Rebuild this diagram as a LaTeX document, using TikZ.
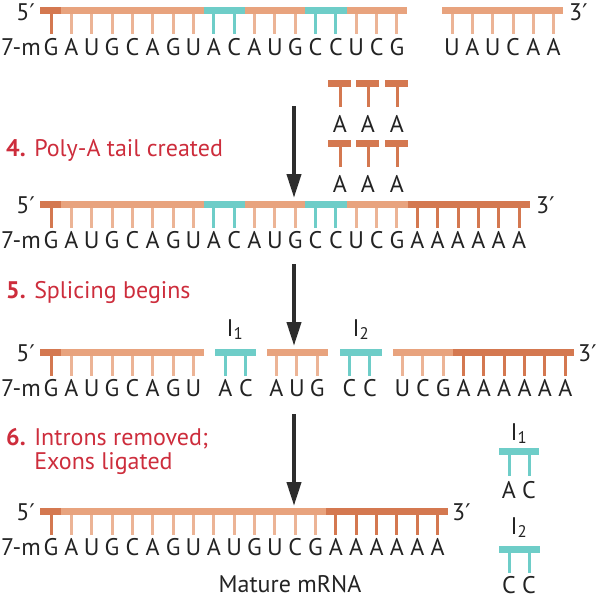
\documentclass[tikz,border=0pt]{standalone}
\usepackage{fontspec}
\setmainfont{PT Sans}
\newfontfamily\primefont{DejaVu Sans}
\usetikzlibrary{arrows.meta}
\definecolor{orl}{RGB}{232,163,126}
\definecolor{orlt}{RGB}{236,180,150}
\definecolor{ord}{RGB}{212,120,80}
\definecolor{cyn}{RGB}{110,205,200}
\definecolor{stagec}{RGB}{205,45,60}
\definecolor{arrowc}{RGB}{45,45,45}
\definecolor{basec}{RGB}{35,35,35}
\newcommand{\pr}{{\primefont\fontsize{23}{24}\selectfont ′}}

\begin{document}
\begin{tikzpicture}[x=1pt, y=-1pt,
  every node/.style={inner sep=0pt, font=\fontsize{24}{24}\selectfont, text=basec},
  base/.style={anchor=base},
  stem/.style={line width=3pt},
  stage/.style={anchor=base west, text=stagec, align=left, font=\fontsize{24}{24}\selectfont},
  down/.style={draw=arrowc, line width=4pt, -{Triangle[width=14pt,length=24pt]}}]
\useasboundingbox (0,0) rectangle (598,600);

% strand 1
\foreach \xa/\xb/\c in {40/61/ord, 61/204/orl, 204/245/cyn, 245/305/orl, 305/347/cyn, 347/407/orl, 442/563/orl}
  \fill[\c] (\xa,7) rectangle (\xb,14);
\foreach \b/\c [count=\i from 0] in {G/ord, A/orlt, U/orlt, G/orlt, C/orlt, A/orlt, G/orlt, U/orlt, A/cyn, C/cyn, A/orlt, U/orlt, G/orlt, C/cyn, C/cyn, U/orlt, C/orlt, G/orlt} {
  \draw[stem, \c] (51+20.35*\i,14) -- (51+20.35*\i,34);
  \node[base] (sa\i) at (51+20.35*\i,55) {\b};
}
\foreach \b [count=\i from 0] in {U,A,U,C,A,A} {
  \draw[stem, orlt] (452+20.35*\i,14) -- (452+20.35*\i,34);
  \node[base] (sb\i) at (452+20.35*\i,55) {\b};
}
\node[anchor=base east] (capa) at (41,55) {7-m};
\node[anchor=east] (fivea) at (35,12) {5\pr};
\node[anchor=west] (threea) at (569,12) {3\pr};

% free A's
\foreach \x [count=\i] in {340,368,397} {
  \fill[ord] (\x-12,79.5) rectangle (\x+11,86.5);
  \draw[stem, ord] (\x,86.5) -- (\x,107);
  \node[base] (pa\i) at (\x,132) {A};
  \fill[ord] (\x-12,139.5) rectangle (\x+11,146.5);
  \draw[stem, ord] (\x,146.5) -- (\x,167);
  \node[base] (pb\i) at (\x,192) {A};
}

\node[stage] (stage4) at (6,156) {\textbf{4.} Poly-A tail created};
\coordinate (a1top) at (294,106);
\coordinate (a1tip) at (294,198);
\draw[down] (a1top) -- (a1tip);

% strand 2
\foreach \xa/\xb/\c in {40/61/ord, 61/204/orl, 204/245/cyn, 245/305/orl, 305/347/cyn, 347/408/orl, 408/530/ord}
  \fill[\c] (\xa,201) rectangle (\xb,208);
\foreach \b/\c [count=\i from 0] in {G/ord, A/orlt, U/orlt, G/orlt, C/orlt, A/orlt, G/orlt, U/orlt, A/cyn, C/cyn, A/orlt, U/orlt, G/orlt, C/cyn, C/cyn, U/orlt, C/orlt, G/orlt, A/ord, A/ord, A/ord, A/ord, A/ord, A/ord} {
  \draw[stem, \c] (51+20.35*\i,208) -- (51+20.35*\i,228);
  \node[base] (sc\i) at (51+20.35*\i,248) {\b};
}
\node[anchor=base east] (capb) at (41,248) {7-m};
\node[anchor=east] (fiveb) at (35,205) {5\pr};
\node[anchor=west] (threeb) at (536,205) {3\pr};

\node[stage] (stage5) at (6,298) {\textbf{5.} Splicing begins};
\coordinate (a2top) at (294,264);
\coordinate (a2tip) at (294,346);
\draw[down] (a2top) -- (a2tip);

% strand 3
\foreach \xa/\xb/\c in {40/61/ord, 61/204/orl, 215/256/cyn, 267/328/orl, 340/382/cyn, 393/453/orl, 453/574/ord}
  \fill[\c] (\xa,348.5) rectangle (\xb,355.5);
\foreach \x/\b/\c [count=\i] in {51/G/ord, 71.35/A/orlt, 91.7/U/orlt, 112.05/G/orlt, 132.4/C/orlt, 152.75/A/orlt, 173.1/G/orlt, 193.45/U/orlt, 225.5/A/cyn, 245.85/C/cyn, 276.5/A/orlt, 296.85/U/orlt, 317.2/G/orlt, 349.5/C/cyn, 369.85/C/cyn, 402.5/U/orlt, 422.85/C/orlt, 443.2/G/orlt, 463.55/A/ord, 483.9/A/ord, 504.25/A/ord, 524.6/A/ord, 544.95/A/ord, 565.3/A/ord} {
  \draw[stem, \c] (\x,355.5) -- (\x,375.5);
  \node[base] (sd\i) at (\x,396) {\b};
}
\node[anchor=base east] (capc) at (41,396) {7-m};
\node[anchor=east] (fivec) at (35,353) {5\pr};
\node[anchor=west] (threec) at (578,353) {3\pr};
\node[base] (intra) at (235,336) {I\textsubscript{1}};
\node[base] (intrb) at (361,336) {I\textsubscript{2}};

\node[stage] (stage6) at (6,469) {\textbf{6.} Introns removed;\\\hphantom{\textbf{6.} }Exons ligated};
\coordinate (a3top) at (294,414);
\coordinate (a3tip) at (294,506);
\draw[down] (a3top) -- (a3tip);

% strand 4
\foreach \xa/\xb/\c in {40/61/ord, 61/326/orl, 326/448/ord}
  \fill[\c] (\xa,508) rectangle (\xb,515);
\foreach \b/\c [count=\i from 0] in {G/ord, A/orlt, U/orlt, G/orlt, C/orlt, A/orlt, G/orlt, U/orlt, A/orlt, U/orlt, G/orlt, U/orlt, C/orlt, G/orlt, A/ord, A/ord, A/ord, A/ord, A/ord, A/ord} {
  \draw[stem, \c] (51+20.35*\i,515) -- (51+20.35*\i,535);
  \node[base] (se\i) at (51+20.35*\i,555) {\b};
}
\node[anchor=base east] (capd) at (41,555) {7-m};
\node[anchor=east] (fived) at (35,512) {5\pr};
\node[anchor=west] (threed) at (452,512) {3\pr};
\node[base] (mature) at (290,592) {Mature mRNA};

% removed introns
\node[base] (introa) at (519,440) {I\textsubscript{1}};
\fill[cyn] (499,448) rectangle (539,455);
\foreach \x/\b [count=\i] in {509/A, 529/C} {
  \draw[stem, cyn] (\x,455) -- (\x,476);
  \node[base] (ia\i) at (\x,498) {\b};
}
\node[base] (introb) at (519,534) {I\textsubscript{2}};
\fill[cyn] (499,546) rectangle (540,553);
\foreach \x/\b [count=\i] in {509/C, 529/C} {
  \draw[stem, cyn] (\x,553) -- (\x,573);
  \node[base] (ib\i) at (\x,593) {\b};
}
\end{tikzpicture}
\end{document}
